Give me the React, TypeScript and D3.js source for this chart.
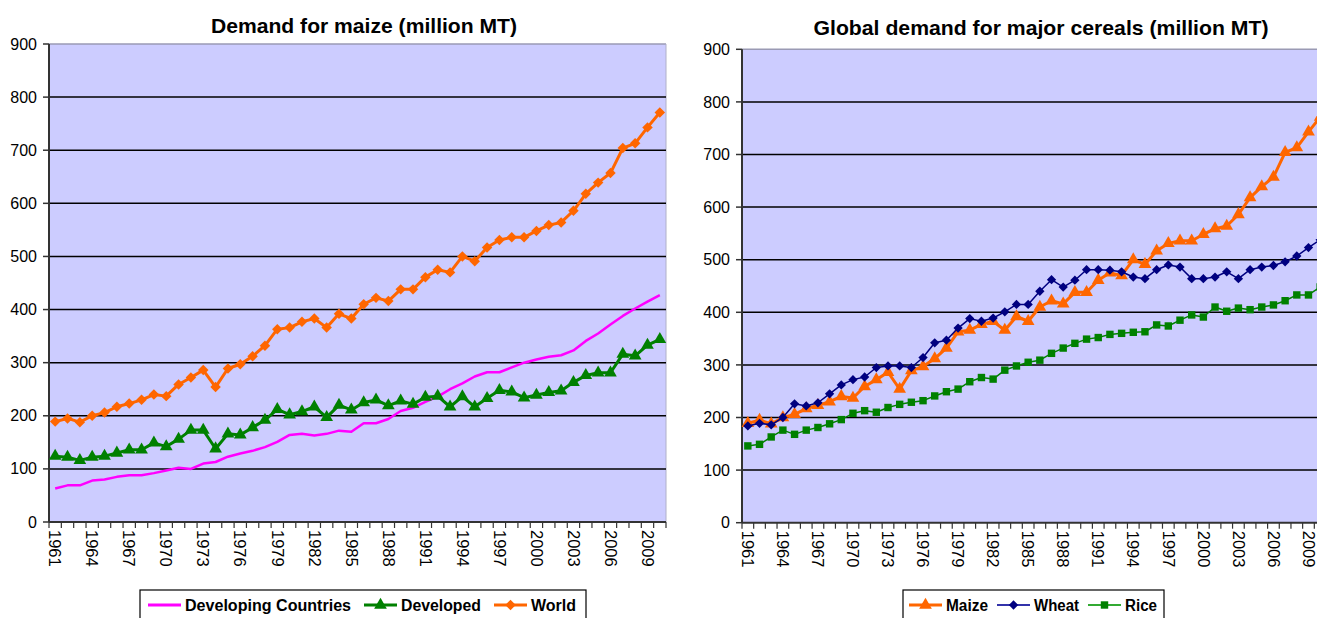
import { useEffect, useRef } from "react";
import * as d3 from "d3";

// years 1961..2010
const years = [
  1961, 1962, 1963, 1964, 1965, 1966, 1967, 1968, 1969, 1970,
  1971, 1972, 1973, 1974, 1975, 1976, 1977, 1978, 1979, 1980,
  1981, 1982, 1983, 1984, 1985, 1986, 1987, 1988, 1989, 1990,
  1991, 1992, 1993, 1994, 1995, 1996, 1997, 1998, 1999, 2000,
  2001, 2002, 2003, 2004, 2005, 2006, 2007, 2008, 2009, 2010,
];
const yearLabels = [1961, 1964, 1967, 1970, 1973, 1976, 1979, 1982, 1985, 1988, 1991, 1994, 1997, 2000, 2003, 2006, 2009];
const yTicks = [0, 100, 200, 300, 400, 500, 600, 700, 800, 900];

const developing = [
  63, 69, 69, 78, 80, 85, 88, 88, 92, 97,
  102, 100, 110, 113, 123, 129, 134, 141, 151, 164,
  166, 163, 166, 172, 170, 186, 186, 194, 209, 215,
  226, 236, 250, 261, 274, 282, 282, 291, 300, 306,
  311, 314, 323, 341, 355, 372, 388, 402, 415, 427,
];
const developed = [
  124, 122, 116, 122, 124, 130, 136, 136, 149, 142,
  156, 173, 173, 138, 166, 164, 178, 192, 212, 202,
  208, 217, 197, 220, 211, 225, 230, 219, 228, 222,
  235, 237, 217, 236, 217, 233, 248, 245, 234, 239,
  244, 247, 263, 276, 281, 281, 316, 313, 333, 344,
];
const world = [
  189, 195, 188, 200, 206, 217, 223, 230, 240, 237,
  259, 272, 286, 254, 289, 297, 312, 332, 363, 366,
  377, 383, 366, 392, 383, 410, 422, 416, 438, 438,
  461, 475, 470, 500, 491, 517, 531, 536, 536, 548,
  559, 564, 586, 618, 639, 657, 704, 713, 743, 771,
];
const wheat = [
  184, 189, 186, 200, 226, 222, 228, 245, 262, 272,
  277, 295, 298, 298, 295, 314, 342, 347, 370, 388,
  383, 389, 401, 415, 415, 440, 462, 448, 461, 481,
  481, 480, 477, 467, 464, 481, 490, 486, 464, 464,
  467, 477, 464, 481, 486, 489, 496, 507, 523, 538,
];
const rice = [
  146, 149, 163, 176, 168, 176, 181, 188, 196, 208,
  213, 210, 219, 225, 229, 232, 241, 249, 254, 268,
  276, 273, 290, 298, 305, 309, 322, 332, 341, 349,
  352, 358, 360, 362, 363, 376, 374, 385, 395, 391,
  410, 402, 408, 405, 410, 414, 422, 433, 433, 448,
];

type Series = { name: string; values: number[]; color: string; legendColor: string; width: number; marker: string | null; size: number };

const leftSeries: Series[] = [
  { name: "Developing Countries", values: developing, color: "#ff00ff", legendColor: "#ff00ff", width: 2.5, marker: null, size: 0 },
  { name: "Developed", values: developed, color: "#008000", legendColor: "#008000", width: 3, marker: "triangle", size: 70 },
  { name: "World", values: world, color: "#ff6600", legendColor: "#ff6600", width: 3, marker: "diamond", size: 70 },
];
const rightSeries: Series[] = [
  { name: "Maize", values: world, color: "#ff6600", legendColor: "#ff6600", width: 3, marker: "triangle", size: 70 },
  { name: "Wheat", values: wheat, color: "#000080", legendColor: "#3333aa", width: 1.5, marker: "diamond", size: 55 },
  { name: "Rice", values: rice, color: "#008000", legendColor: "#33aa33", width: 1.5, marker: "square", size: 55 },
];

const symbolOf = (m: string) =>
  m === "triangle" ? d3.symbolTriangle : m === "diamond" ? d3.symbolDiamond2 : d3.symbolSquare;

const font = "Arial, 'Liberation Sans', Helvetica, sans-serif";

const drawChart = (svg: any, cfg: any) => {
  const { left, right, top, bottom, title, titleX, titleY, titleLen, series, legend } = cfg;

  const x = d3.scaleBand<number>().domain(years).range([left, right]).padding(0);
  const y = d3.scaleLinear().domain([0, 900]).range([bottom, top]);
  const cx = (d: number) => (x(d) as number) + x.bandwidth() / 2;

  const g = svg.append("g");

  // plot area
  g.append("rect")
    .attr("x", left).attr("y", top)
    .attr("width", right - left).attr("height", bottom - top)
    .attr("fill", "#ccccff");
  g.append("line")
    .attr("x1", left).attr("x2", right).attr("y1", top).attr("y2", top)
    .attr("stroke", "#9a9ab4").attr("stroke-width", 1.5);
  g.append("line")
    .attr("x1", right).attr("x2", right).attr("y1", top).attr("y2", bottom)
    .attr("stroke", "#b0b0c8").attr("stroke-width", 1);

  // gridlines
  g.selectAll(".grid")
    .data(yTicks.filter((t) => t > 0 && t < 900))
    .join("line")
    .attr("x1", left).attr("x2", right)
    .attr("y1", (d: number) => y(d)).attr("y2", (d: number) => y(d))
    .attr("stroke", "#000").attr("stroke-width", 1.5);

  // y axis
  g.append("line")
    .attr("x1", left).attr("x2", left).attr("y1", top).attr("y2", bottom)
    .attr("stroke", "#333").attr("stroke-width", 2);
  g.selectAll(".ytick")
    .data(yTicks)
    .join("line")
    .attr("x1", left - 6).attr("x2", left)
    .attr("y1", (d: number) => y(d)).attr("y2", (d: number) => y(d))
    .attr("stroke", "#333").attr("stroke-width", 1.5);
  g.selectAll(".ylab")
    .data(yTicks)
    .join("text")
    .attr("x", left - 12).attr("y", (d: number) => y(d))
    .attr("dy", "0.35em")
    .attr("text-anchor", "end")
    .attr("font-family", font).attr("font-size", 16)
    .text((d: number) => d);

  // x axis
  g.append("line")
    .attr("x1", left).attr("x2", right).attr("y1", bottom).attr("y2", bottom)
    .attr("stroke", "#333").attr("stroke-width", 2);
  g.selectAll(".xtick")
    .data([...years, 2011])
    .join("line")
    .attr("x1", (d: number) => (d === 2011 ? right : (x(d) as number)))
    .attr("x2", (d: number) => (d === 2011 ? right : (x(d) as number)))
    .attr("y1", bottom).attr("y2", bottom + 6)
    .attr("stroke", "#333").attr("stroke-width", 1.2);
  g.selectAll(".xlab")
    .data(yearLabels)
    .join("text")
    .attr("transform", (d: number) => `translate(${cx(d)},${bottom + 8}) rotate(90)`)
    .attr("dy", "0.35em")
    .attr("font-family", font).attr("font-size", 16.5)
    .text((d: number) => d);

  // title
  svg.append("text")
    .attr("x", titleX).attr("y", titleY)
    .attr("text-anchor", "middle")
    .attr("font-family", font).attr("font-size", 21).attr("font-weight", "bold")
    .attr("textLength", titleLen)
    .attr("lengthAdjust", "spacingAndGlyphs")
    .text(title);

  // lines + markers
  const line = d3.line<number>().x((_, i) => cx(years[i])).y((d) => y(d));
  series.forEach((s: Series) => {
    g.append("path")
      .attr("d", line(s.values))
      .attr("fill", "none")
      .attr("stroke", s.color)
      .attr("stroke-width", s.width)
      .attr("stroke-linejoin", "round");
    if (s.marker) {
      const sym = d3.symbol().type(symbolOf(s.marker)).size(s.size);
      g.selectAll(null)
        .data(s.values)
        .join("path")
        .attr("d", sym())
        .attr("transform", (d: number, i: number) => `translate(${cx(years[i])},${y(d)})`)
        .attr("fill", s.color);
    }
  });

  // legend
  const lg = svg.append("g");
  lg.append("rect")
    .attr("x", legend.x).attr("y", legend.y)
    .attr("width", legend.w).attr("height", 40)
    .attr("fill", "#fff").attr("stroke", "#000").attr("stroke-width", 1.2);
  series.forEach((s: Series, i: number) => {
    const ix = legend.items[i];
    const ly = legend.y + 15;
    lg.append("line")
      .attr("x1", ix).attr("x2", ix + 33).attr("y1", ly).attr("y2", ly)
      .attr("stroke", s.legendColor).attr("stroke-width", s.width < 2 ? 2 : 3);
    if (s.marker) {
      lg.append("path")
        .attr("d", d3.symbol().type(symbolOf(s.marker)).size(s.size)())
        .attr("transform", `translate(${ix + 16.5},${ly})`)
        .attr("fill", s.color);
    }
    lg.append("text")
      .attr("x", ix + 37).attr("y", ly + 6)
      .attr("font-family", font).attr("font-size", 16).attr("font-weight", "bold")
      .attr("textLength", legend.lens[i])
      .attr("lengthAdjust", "spacingAndGlyphs")
      .text(s.name);
  });
};

const App = () => {
  const svgRef = useRef<SVGSVGElement>(null);

  useEffect(() => {
    const svg = d3.select(svgRef.current);
    svg.selectAll("*").remove();

    drawChart(svg, {
      left: 49, right: 666, top: 44, bottom: 522,
      title: "Demand for maize (million MT)", titleX: 364, titleY: 33, titleLen: 306,
      series: leftSeries,
      legend: { x: 140, y: 590, w: 446, items: [148, 364, 494], lens: [166, 80, 45] },
    });
    drawChart(svg, {
      left: 742, right: 1326, top: 49.3, bottom: 522.7,
      title: "Global demand for major cereals (million MT)", titleX: 1041, titleY: 35, titleLen: 455,
      series: rightSeries,
      legend: { x: 903, y: 590, w: 261, items: [909, 997, 1088], lens: [42, 45, 32] },
    });
  }, []);

  return (
    <svg
      ref={svgRef}
      width={1317}
      height={618}
      style={{ position: "absolute", left: 0, top: 0, background: "#fff" }}
    />
  );
};

export default App;
